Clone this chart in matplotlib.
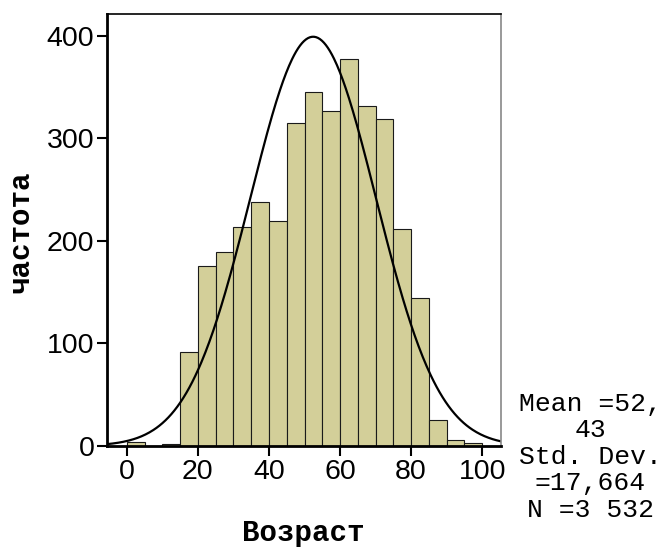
import numpy as np
import matplotlib
matplotlib.use('Agg')
import matplotlib.pyplot as plt

# Гистограмма возраста (шаг 5 лет) с нормальной кривой, как в SPSS.
BIN_EDGES = list(range(0, 105, 5))
COUNTS = [4, 0, 2, 92, 175, 189, 213, 238, 219, 315,
          345, 326, 377, 331, 319, 211, 144, 25, 6, 3]
MEAN = 52.43
STD = 17.664
N = 3532
BIN_WIDTH = 5
STATS_TEXT = 'Mean =52,\n43\nStd. Dev.\n=17,664\nN =3 532'
XLABEL = 'Возраст'
YLABEL = 'частота'

fig = plt.figure(figsize=(6.62, 5.49), dpi=100)
ax = fig.add_axes([0.1616, 0.1876, 0.5952, 0.7869])

lefts = BIN_EDGES[:-1]
ax.bar(lefts, COUNTS, width=BIN_WIDTH, align='edge', color='#d3cf99',
       edgecolor='#1a1a1a', linewidth=0.8)

# нормальная кривая по среднему и стандартному отклонению
x = np.linspace(-6, 106, 400)
y = N * BIN_WIDTH / (STD * np.sqrt(2 * np.pi)) * np.exp(-0.5 * ((x - MEAN) / STD) ** 2)
ax.plot(x, y, color='black', linewidth=1.6)

ax.set_xlim(-5.6, 105.3)
ax.set_ylim(0, 421)
ax.set_xticks([0, 20, 40, 60, 80, 100])
ax.set_yticks([0, 100, 200, 300, 400])

for side in ['left', 'bottom']:
    ax.spines[side].set_linewidth(2)
    ax.spines[side].set_color('black')
ax.spines['top'].set_linewidth(1.2)
ax.spines['right'].set_linewidth(1.2)
ax.spines['right'].set_color('#888888')
ax.tick_params(length=7, width=1.5, labelsize=20.5, pad=2,
               labelfontfamily='Liberation Sans')

ax.set_xlabel(XLABEL, family='Liberation Mono', fontweight='bold', fontsize=21)
ax.set_ylabel(YLABEL, family='Liberation Mono', fontweight='bold', fontsize=21)
ax.xaxis.set_label_coords(0.497, -0.17)
ax.yaxis.set_label_coords(-0.183, 0.495)

fig.text(0.892, 0.286, STATS_TEXT, ha='center', va='top',
         family='Liberation Mono', fontsize=19, linespacing=1.13)

fig.savefig('out.png', dpi=100)
